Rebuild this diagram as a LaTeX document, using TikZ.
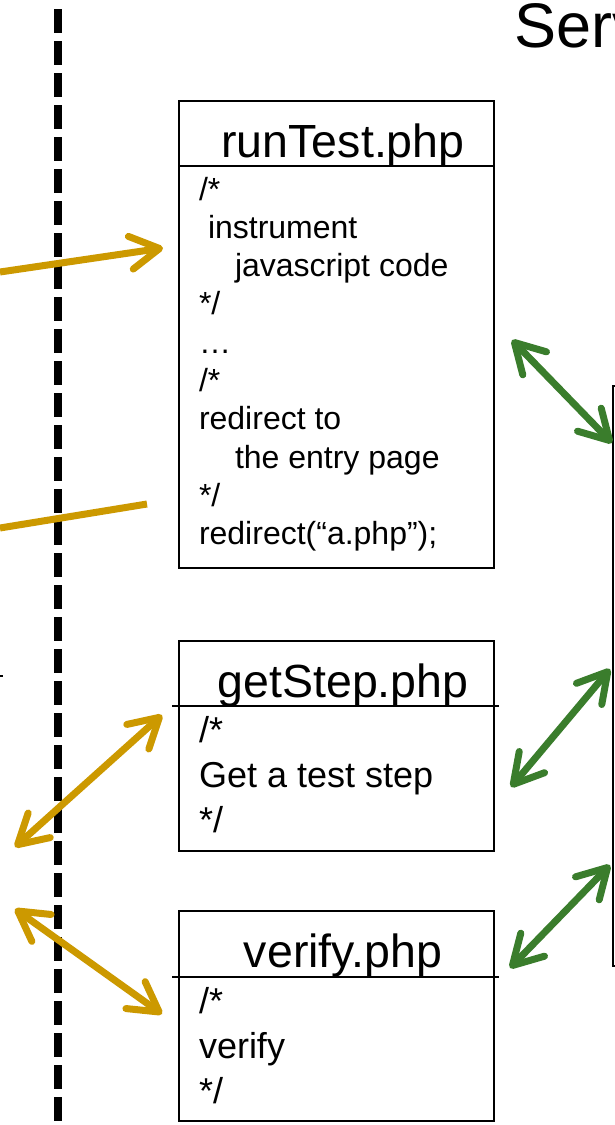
\documentclass[tikz,border=0pt]{standalone}
\usepackage{fontspec}
\setmainfont{Liberation Sans}
\usepackage{tikz}
\usetikzlibrary{arrows.meta}
\usetikzlibrary{positioning}
\usetikzlibrary{calc}
\definecolor{reqgold}{RGB}{204,153,0}
\definecolor{srvgreen}{RGB}{58,125,44}
\newcommand{\phptitle}{\fontsize{46.5}{56}\selectfont}
\newcommand{\phpsmall}{\fontsize{32}{38}\selectfont}
\newcommand{\phpbody}{\fontsize{36}{43}\selectfont}
\tikzset{every picture/.style={line width=2pt},
  classbox/.style={draw,line width=2pt,inner sep=0pt,anchor=north west},
  codeline/.style={anchor=base west,inner sep=0pt},
  goldline/.style={draw=reqgold,line width=7pt},
  greenline/.style={draw=srvgreen,line width=7pt},
  >={Straight Barb[length=29pt,width=33pt,round]}}

\begin{document}
\begin{tikzpicture}[x=1pt,y=-1pt]
\useasboundingbox (0,0) rectangle (615,1125);
% client / server border
\coordinate (cutTop) at (58,9);
\coordinate (cutBot) at (58,1125);
\draw[line width=8pt,dash pattern=on 24pt off 8pt] (cutTop) -- (cutBot);
\node (srvName) [anchor=base west,inner sep=0pt] at (513,47) {\fontsize{63}{75}\selectfont Serv};

% php files
\node (runTest) [classbox,minimum width=315pt,minimum height=467pt] at (178,100) {};
\node (getStep) [classbox,minimum width=315pt,minimum height=210pt] at (178,640) {};
\node (verify) [classbox,minimum width=315pt,minimum height=210pt] at (178,910) {};
\node (srv) [classbox,minimum width=100pt,minimum height=580pt] at (612,385) {};

\draw[line width=2.5pt] ($(runTest.north west)+(0,66)$) -- ($(runTest.north east)+(0,66)$);
\draw[line width=2.5pt] ($(getStep.north west)+(-6,66)$) -- ($(getStep.north east)+(4,66)$);
\draw[line width=2.5pt] ($(verify.north west)+(-6,67)$) -- ($(verify.north east)+(4,67)$);

\node (rtName) [anchor=base,inner sep=0pt] at ($(runTest.north)+(6.5,57)$) {\phptitle runTest.php};
\node (gsName) [anchor=base,inner sep=0pt] at ($(getStep.north)+(6.5,57)$) {\phptitle getStep.php};
\node (vfName) [anchor=base,inner sep=0pt] at ($(verify.north)+(6.5,57)$) {\phptitle verify.php};

\foreach \dx/\txt [count=\i] in {0/{/*},9/{instrument},36/{javascript code},0/{*/},0/{…},0/{/*},0/{redirect to},36/{the entry page},0/{*/},0/{redirect(“a.php”);}} {
  \node (rt\i) [codeline] at ($(runTest.north west)+(20+\dx,61.7+38.3*\i)$) {\phpsmall \txt};
}
\foreach \txt [count=\i] in {{/*},{Get a test step},{*/}} {
  \node (gs\i) [codeline] at ($(getStep.north west)+(20,57+45*\i)$) {\phpbody \txt};
}
\foreach \txt [count=\i] in {{/*},{verify},{*/}} {
  \node (vf\i) [codeline] at ($(verify.north west)+(20,58+45*\i)$) {\phpbody \txt};
}

% requests from the client
\coordinate (g1) at (0,272);
\coordinate (g2) at (0,528);
\coordinate (g3) at (15,847);
\coordinate (g4) at (15,909);
\draw[goldline,->] (g1) -- ($(runTest.north west)+(-15,148)$);
\draw[goldline] ($(runTest.north west)+(-31,404)$) -- (g2);
\draw[goldline,<->] (g3) -- ($(getStep.north west)+(-16,75)$);
\draw[goldline,<->] (g4) -- ($(verify.north west)+(-16,104)$);

% server side
\draw[greenline,<->] ($(runTest.north east)+(17,240)$) -- ($(srv.north west)+(0,58)$);
\draw[greenline,<->] ($(srv.north west)+(-2,284)$) -- ($(getStep.north east)+(16,147)$);
\draw[greenline,<->] ($(srv.north west)+(-2,480)$) -- ($(verify.north east)+(15,58)$);

\coordinate (tickA) at (0,676);
\coordinate (tickB) at (3,676);
\draw[line width=1.5pt] (tickA) -- (tickB);
\end{tikzpicture}
\end{document}
